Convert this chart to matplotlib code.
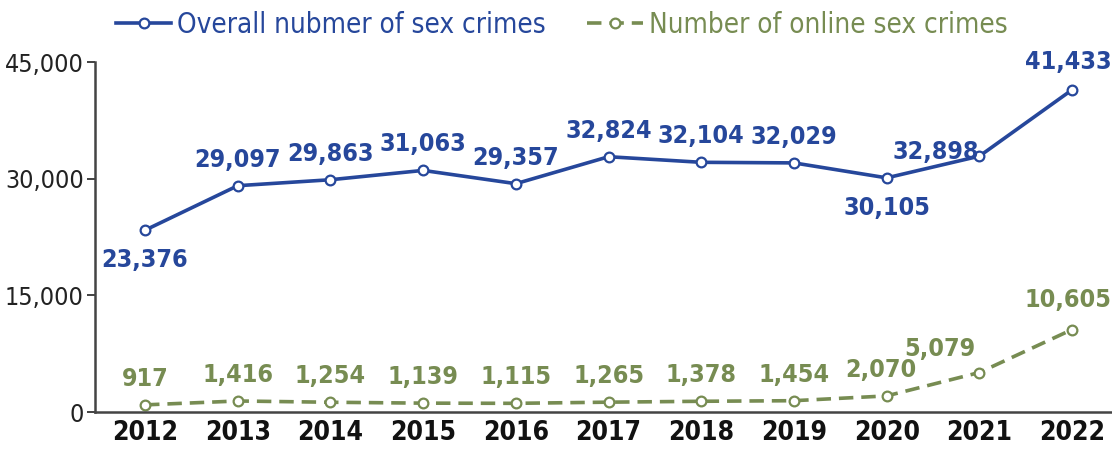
import matplotlib
matplotlib.use("Agg")
import matplotlib.pyplot as plt
from matplotlib.ticker import FuncFormatter

plt.rcParams['font.family'] = ['DejaVu Sans']
plt.rcParams['font.stretch'] = 'condensed'

# -------------------------------------------------------------------------
# Datos
# -------------------------------------------------------------------------
years = [2012, 2013, 2014, 2015, 2016, 2017, 2018, 2019, 2020, 2021, 2022]
total_crimes = [23376, 29097, 29863, 31063, 29357, 32824, 32104, 32029, 30105, 32898, 41433]
online_crimes = [917, 1416, 1254, 1139, 1115, 1265, 1378, 1454, 2070, 5079, 10605]
y_ticks = [0, 15000, 30000, 45000]

blue = "#26479b"
green = "#778c52"

# desplazamiento de etiquetas (px): arriba por defecto
total_offsets = [(0, -30), (0, 26), (0, 26), (0, 26), (0, 26), (0, 26),
                 (0, 26), (0, 26), (0, -30), (-44, 4), (-4, 28)]
online_offsets = [(0, 26), (0, 26), (0, 26), (0, 26), (0, 26), (0, 26),
                  (0, 26), (0, 26), (-6, 26), (-40, 24), (-4, 30)]

fig = plt.figure(figsize=(11.12, 4.55), dpi=100)
ax = fig.add_axes([0.0854, 0.0945, 0.9146, 0.7692])

ax.plot(years, total_crimes, color=blue, lw=2.6, marker="o", ms=7,
        mfc="white", mec=blue, mew=1.6, label="Overall nubmer of sex crimes")
ax.plot(years, online_crimes, color=green, lw=2.6, ls=(0, (4, 2.2)), marker="o",
        ms=7, mfc="white", mec=green, mew=1.6, label="Number of online sex crimes")

for x, y, (dx, dy) in zip(years, total_crimes, total_offsets):
    ax.annotate(f"{y:,}", (x, y), xytext=(dx, dy), textcoords="offset pixels",
                ha="center", va="center", color=blue, fontsize=18, fontweight="bold")
for x, y, (dx, dy) in zip(years, online_crimes, online_offsets):
    ax.annotate(f"{y:,}", (x, y), xytext=(dx, dy), textcoords="offset pixels",
                ha="center", va="center", color=green, fontsize=18, fontweight="bold")

ax.set_xlim(2011.46, 2022.43)
ax.set_ylim(0, 45000)
ax.set_xticks(years)
ax.set_yticks(y_ticks)
ax.yaxis.set_major_formatter(FuncFormatter(lambda v, p: f"{int(v):,}"))
ax.tick_params(axis="x", length=0, labelsize=19, pad=6, labelcolor="#111111")
ax.tick_params(axis="y", length=6, width=1.3, labelsize=18, pad=2,
               color="#333333", labelcolor="#222222")
for lab in ax.get_xticklabels():
    lab.set_fontweight("bold")

for s in ["top", "right"]:
    ax.spines[s].set_visible(False)
for s in ["left", "bottom"]:
    ax.spines[s].set_linewidth(1.8)
    ax.spines[s].set_color("#444444")

leg = fig.legend(loc="center", bbox_to_anchor=(0.505, 0.945), ncol=2, frameon=False,
                 fontsize=20, handlelength=2.0, columnspacing=1.5, handletextpad=0.2,
                 labelcolor="linecolor")

fig.savefig("out.png", dpi=100)
